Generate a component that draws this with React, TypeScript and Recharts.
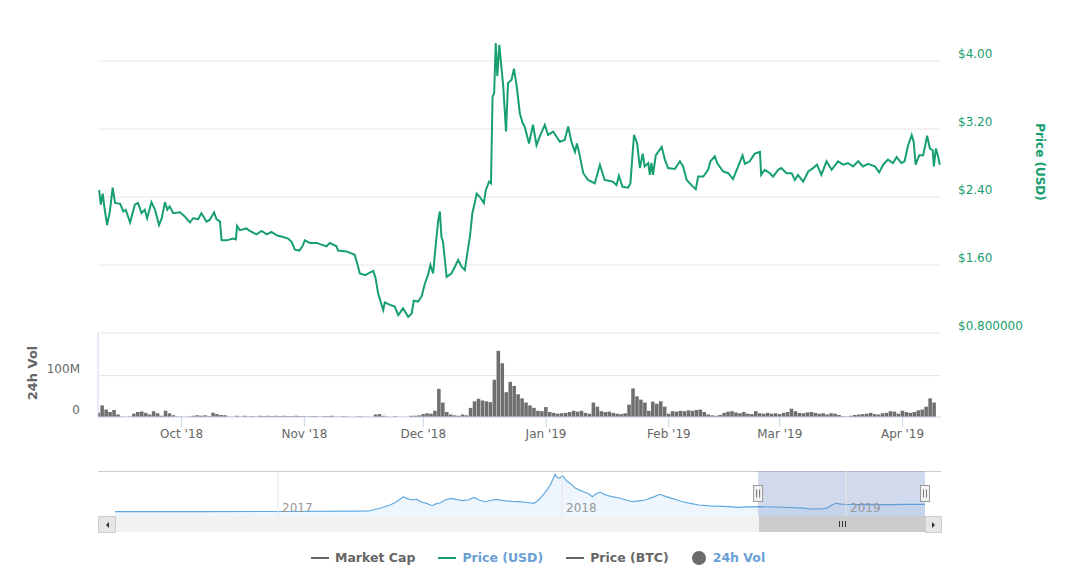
import React from 'react';
import {
  LineChart, Line, XAxis, YAxis, CartesianGrid, BarChart, Bar,
  AreaChart, Area, ReferenceArea, ReferenceLine,
} from 'recharts';

// ---------- data ----------
// main chart x values: days relative to 2018-10-01
const monthTicks = [0, 31, 61, 92, 123, 151, 182];
const monthLabels = ["Oct '18", "Nov '18", "Dec '18", "Jan '19", "Feb '19", "Mar '19", "Apr '19"];

const priceTicks = [0.8, 1.6, 2.4, 3.2, 4.0];
const priceTickLabels = ['$0.800000', '$1.60', '$2.40', '$3.20', '$4.00'];

const volTicks = [0, 100];
const volTickLabels = ['0', '100M'];

const priceDays = [
  -20.8, -20.4, -19.9, -19.4, -18.8, -18.1, -17.4, -16.8, -15.5, -14.7, -14.1, -13.0, -11.8, -11.0, -10.1, -9.3,
  -8.7, -7.6, -6.7, -5.7, -5.0, -4.2, -3.6, -3.0, -2.1, -0.4, 0.8, 2.1, 2.9, 4.2, 5.0, 6.3,
  7.1, 8.2, 8.8, 9.7, 10.1, 11.4, 13.0, 13.7, 14.0, 14.7, 16.4, 17.2, 18.9, 20.2, 21.5, 22.7,
  24.0, 25.6, 26.9, 27.8, 28.6, 29.7, 30.5, 31.1, 32.4, 34.1, 35.3, 36.6, 37.4, 39.1, 39.5, 41.6,
  43.7, 44.2, 45.0, 46.3, 48.4, 49.0, 49.6, 50.5, 50.9, 51.3, 52.6, 53.8, 54.7, 55.9, 57.2, 58.1,
  58.6, 59.7, 60.6, 61.4, 62.2, 62.8, 63.5, 64.2, 64.8, 65.2, 65.6, 66.0, 66.9, 68.1, 69.0, 69.8,
  70.7, 71.5, 72.2, 72.8, 73.4, 74.0, 74.5, 75.3, 76.3, 76.8, 77.6, 78.1, 78.5, 78.9, 79.3, 79.7,
  80.2, 81.2, 81.9, 82.4, 83.3, 83.9, 84.6, 85.4, 86.1, 86.6, 87.7, 88.7, 89.6, 90.4, 91.7, 92.5,
  93.8, 95.5, 96.7, 97.6, 98.4, 99.3, 99.8, 100.5, 101.4, 102.6, 104.3, 105.6, 106.8, 108.9, 109.8, 110.4,
  111.3, 112.7, 113.3, 114.2, 115.0, 115.7, 116.4, 116.9, 117.8, 118.2, 118.6, 119.0, 119.7, 121.2, 122.0, 122.8,
  124.5, 125.8, 126.6, 127.5, 128.7, 129.8, 130.4, 131.7, 132.9, 133.5, 134.6, 135.2, 136.7, 138.0, 139.2, 140.5,
  141.6, 142.2, 143.4, 144.7, 146.0, 146.3, 147.2, 148.5, 149.3, 150.6, 151.4, 152.7, 154.0, 154.8, 155.6, 156.9,
  158.2, 159.4, 160.4, 161.5, 162.8, 164.1, 165.7, 167.0, 168.2, 169.5, 170.8, 172.0, 173.3, 175.0, 176.1, 177.1,
  178.3, 179.6, 180.5, 181.7, 182.5, 183.4, 184.3, 184.8, 185.3, 186.2, 187.2, 188.2, 188.9, 189.6, 189.9, 190.4,
  191.0, 191.4,
];
const priceUsd = [
  2.48, 2.31, 2.44, 2.25, 2.07, 2.23, 2.51, 2.33, 2.32, 2.23, 2.25, 2.10, 2.31, 2.33, 2.21, 2.25,
  2.15, 2.34, 2.25, 2.07, 2.15, 2.34, 2.25, 2.29, 2.21, 2.22, 2.17, 2.10, 2.15, 2.14, 2.21, 2.11,
  2.13, 2.22, 2.14, 2.11, 1.89, 1.89, 1.91, 1.90, 2.06, 2.01, 2.03, 2.00, 1.96, 2.00, 1.96, 1.99,
  1.95, 1.93, 1.91, 1.87, 1.78, 1.77, 1.82, 1.89, 1.86, 1.86, 1.84, 1.82, 1.86, 1.82, 1.77, 1.76,
  1.72, 1.64, 1.50, 1.48, 1.53, 1.44, 1.27, 1.13, 1.07, 1.16, 1.13, 1.11, 1.01, 1.09, 0.99, 1.03,
  1.18, 1.17, 1.23, 1.38, 1.48, 1.60, 1.50, 1.86, 2.13, 2.23, 1.93, 1.87, 1.46, 1.50, 1.58, 1.66,
  1.58, 1.54, 1.76, 1.94, 2.21, 2.33, 2.44, 2.40, 2.33, 2.48, 2.58, 2.56, 3.58, 3.62, 4.21, 3.82,
  4.19, 3.70, 3.17, 3.74, 3.78, 3.91, 3.70, 3.38, 3.27, 3.23, 3.03, 3.25, 3.01, 3.11, 3.25, 3.13,
  3.17, 3.05, 3.07, 3.23, 3.05, 2.93, 3.03, 2.89, 2.68, 2.60, 2.56, 2.78, 2.60, 2.58, 2.54, 2.65,
  2.52, 2.51, 2.56, 3.13, 3.03, 2.74, 2.91, 2.76, 2.80, 2.66, 2.80, 2.66, 2.89, 2.99, 2.84, 2.74,
  2.73, 2.82, 2.76, 2.60, 2.54, 2.49, 2.64, 2.64, 2.72, 2.82, 2.88, 2.80, 2.70, 2.68, 2.61, 2.76,
  2.89, 2.79, 2.82, 2.91, 2.93, 2.66, 2.72, 2.68, 2.64, 2.72, 2.74, 2.68, 2.68, 2.60, 2.66, 2.58,
  2.70, 2.74, 2.78, 2.66, 2.82, 2.72, 2.82, 2.78, 2.80, 2.76, 2.82, 2.76, 2.79, 2.76, 2.69, 2.78,
  2.84, 2.80, 2.87, 2.80, 2.82, 3.01, 3.13, 3.05, 2.78, 2.89, 2.89, 3.12, 2.97, 2.95, 2.76, 2.97,
  2.87, 2.78,
];

// daily 24h volume (millions USD), first value is day -21 (2018-09-10)
const volStartDay = -21;
const volumeM = [
  10, 28, 18, 12, 17, 6, 1, 0.5, 1, 8, 12, 13, 10, 6, 14, 9,
  3, 15, 9, 4, 1, 1, 0.5, 1, 3, 4, 3, 4, 2, 10, 7, 5,
  4, 1, 0.5, 3, 1, 3, 1, 2, 1, 3, 2, 3, 2, 3, 2, 3,
  2, 2, 3, 2, 2, 1, 2, 2, 1, 2, 2, 3, 1, 1, 2, 1,
  0.5, 1, 2, 1, 1, 0.5, 6, 7, 3, 1, 0.5, 2, 0.5, 0.5, 0.5, 3,
  3, 4, 7, 9, 8, 15, 68, 35, 12, 6, 4, 3, 6, 4, 22, 38,
  44, 40, 38, 36, 90, 160, 130, 60, 85, 75, 55, 45, 35, 28, 22, 15,
  14, 24, 12, 10, 8, 9, 10, 12, 15, 13, 15, 10, 8, 35, 25, 14,
  12, 13, 10, 8, 7, 9, 30, 69, 50, 42, 35, 15, 37, 32, 38, 25,
  8, 14, 13, 15, 14, 16, 15, 17, 18, 12, 6, 4, 3, 5, 10, 13,
  14, 11, 9, 12, 8, 7, 14, 9, 8, 10, 8, 9, 7, 10, 12, 20,
  14, 10, 9, 11, 12, 10, 8, 9, 6, 9, 8, 5, 2, 1, 3, 5,
  6, 7, 8, 10, 7, 6, 9, 10, 14, 13, 8, 15, 12, 10, 12, 16,
  18, 25, 45, 35,
];

// navigator: x = days relative to 2017-01-01
const navDays = [
  -209.5, -100, 0, 100, 117, 131, 144, 152, 161, 167, 173.5, 178, 184, 191, 198, 203,
  208, 215, 222, 230, 237, 244, 252, 259, 266, 273, 280, 290, 300, 310, 320, 329,
  334, 339, 345, 350, 356, 359, 362, 366, 371, 376, 382, 388, 393, 399, 404, 409,
  414, 421, 429, 440, 447, 456, 464, 472, 482, 491, 498, 506, 513, 520, 530, 541,
  555, 571, 580, 590, 604, 618, 640, 658, 675, 684, 692, 699, 706, 712, 717, 724,
  730, 745, 760, 774, 790, 805, 820, 831.5,
];
const navPrice = [
  0.05, 0.08, 0.1, 0.2, 0.28, 1.24, 2.41, 3.5, 5.36, 4.6, 4.19, 4.5, 3.48, 3.0, 2.16, 2.8,
  3.12, 4.2, 4.79, 4.3, 4.0, 4.19, 5.08, 4.1, 3.58, 4.0, 4.44, 4.0, 3.7, 3.58, 3.3, 3.02,
  4.0, 5.36, 7.5, 9.52, 13.3, 12.2, 12.0, 12.8, 10.9, 10.0, 8.46, 7.6, 7.14, 6.4, 5.36, 6.4,
  6.93, 6.0, 5.36, 4.8, 4.2, 3.58, 3.9, 4.19, 5.2, 6.22, 5.5, 4.79, 4.2, 3.58, 3.0, 2.41,
  2.1, 1.95, 1.8, 1.59, 1.75, 1.81, 1.7, 1.52, 1.3, 0.99, 1.0, 0.99, 1.4, 2.4, 3.02, 2.7,
  2.59, 2.55, 2.6, 2.52, 2.55, 2.6, 2.62, 2.66,
];
const navYears = [0, 365, 730];
const navYearLabels = ['2017', '2018', '2019'];
const navSelection = [617, 831.5];

const legendNames = ['Market Cap', 'Price (USD)', 'Price (BTC)', '24h Vol'];

// ---------- styling constants ----------
const FONT = '"DejaVu Sans", Verdana, sans-serif';
const GREEN = '#17a06e';
const GRID = '#e6e6e6';
const AXIS = '#ccd6eb';
const MAIN_DOMAIN: [number, number] = [-21.1, 191.7];
const NAV_DOMAIN: [number, number] = [-209.5, 831.5];
const NAV_Y: [number, number] = [-1.5, 14.5];

const LEGEND_STYLE = [
  { sym: 'line', symColor: '#666', text: '#666' },
  { sym: 'line', symColor: GREEN, text: '#6a9fd6' },
  { sym: 'line', symColor: '#666', text: '#666' },
  { sym: 'dot', symColor: '#6b6b6b', text: '#6a9fd6' },
];

const priceData = priceDays.map((d, i) => ({ d, p: priceUsd[i] }));
const volData = volumeM.map((v, i) => ({ d: volStartDay + i, v }));
const navData = navDays.map((d, i) => ({ d, v: navPrice[i] }));

const fmtMonth = (v: number) => {
  const i = monthTicks.indexOf(v);
  return i >= 0 ? monthLabels[i] : '';
};

const PriceTick = (props: any) => {
  const { x, y, payload } = props;
  const i = priceTicks.findIndex((t) => Math.abs(t - payload.value) < 1e-9);
  return (
    <text x={x} y={y - 7} dy="0.35em" textAnchor="start" fill={GREEN} fontSize={12} fontFamily={FONT}>
      {i >= 0 ? priceTickLabels[i] : payload.value}
    </text>
  );
};

const VolTick = (props: any) => {
  const { x, y, payload } = props;
  const i = volTicks.indexOf(payload.value);
  return (
    <text x={x} y={y - 7} dy="0.35em" textAnchor="end" fill="#666" fontSize={12} fontFamily={FONT}>
      {i >= 0 ? volTickLabels[i] : payload.value}
    </text>
  );
};

const PriceLabel = (p: any) => {
  const vb = p.viewBox || {};
  const cx = vb.x + vb.width - 11;
  const cy = vb.y + vb.height / 2 - 18;
  return (
    <text x={cx} y={cy} transform={`rotate(90 ${cx} ${cy})`} textAnchor="middle" dominantBaseline="central"
      fill={GREEN} fontSize={12} fontWeight="bold" fontFamily={FONT}>Price (USD)</text>
  );
};

const VolLabel = (p: any) => {
  const vb = p.viewBox || {};
  const cx = vb.x - 6;
  const cy = vb.y + vb.height / 2 - 2;
  return (
    <text x={cx} y={cy} transform={`rotate(-90 ${cx} ${cy})`} textAnchor="middle" dominantBaseline="central"
      fill="#666" fontSize={13} fontWeight="bold" fontFamily={FONT}>24h Vol</text>
  );
};

const SelShape = (p: any) => {
  const { x, y, width, height } = p;
  const handle = (cx: number) => (
    <g>
      <rect x={cx - 4.5} y={y + 14.5} width={9} height={16} fill="#f2f2f2" stroke="#999" strokeWidth={1} />
      <line x1={cx - 1.5} x2={cx - 1.5} y1={y + 18.5} y2={y + 26.5} stroke="#777" strokeWidth={1} />
      <line x1={cx + 1.5} x2={cx + 1.5} y1={y + 18.5} y2={y + 26.5} stroke="#777" strokeWidth={1} />
    </g>
  );
  return (
    <g>
      <rect x={x} y={y} width={width} height={height} fill="#6685c2" fillOpacity={0.3} />
      {handle(x)}
      {handle(x + width)}
    </g>
  );
};

const Legend = () => (
  <div style={{ position: 'absolute', left: 311, top: 549, height: 18, display: 'flex', alignItems: 'center', gap: 23 }}>
    {legendNames.map((n, i) => {
      const s = LEGEND_STYLE[i];
      return (
        <div key={n} style={{ display: 'flex', alignItems: 'center' }}>
          {s.sym === 'line' ? (
            <div style={{ width: 18, height: 2, background: s.symColor, marginRight: 6 }} />
          ) : (
            <div style={{ width: 14, height: 14, borderRadius: 7, background: s.symColor, marginRight: 7 }} />
          )}
          <span style={{ color: s.text, fontWeight: 'bold', fontSize: 12.5, lineHeight: '18px', fontFamily: FONT }}>{n}</span>
        </div>
      );
    })}
  </div>
);

const Scrollbar = () => (
  <>
    <div style={{ position: 'absolute', left: 98, top: 471, width: 843, height: 1, background: '#cccccc' }} />
    <div style={{ position: 'absolute', left: 98, top: 516, width: 843, height: 16, background: '#f2f2f2' }} />
    <div style={{ position: 'absolute', left: 98, top: 516, width: 16, height: 15, background: '#e6e6e6', border: '1px solid #cccccc', boxSizing: 'content-box', display: 'flex', alignItems: 'center', justifyContent: 'center' }}>
      <div style={{ width: 0, height: 0, borderTop: '3px solid transparent', borderBottom: '3px solid transparent', borderRight: '3px solid #333' }} />
    </div>
    <div style={{ position: 'absolute', left: 759, top: 516, width: 166, height: 16, background: '#cccccc', display: 'flex', alignItems: 'center', justifyContent: 'center', gap: 2 }}>
      <div style={{ width: 1, height: 6, background: '#333' }} />
      <div style={{ width: 1, height: 6, background: '#333' }} />
      <div style={{ width: 1, height: 6, background: '#333' }} />
    </div>
    <div style={{ position: 'absolute', left: 925, top: 516, width: 15, height: 15, background: '#e6e6e6', border: '1px solid #cccccc', boxSizing: 'content-box', display: 'flex', alignItems: 'center', justifyContent: 'center' }}>
      <div style={{ width: 0, height: 0, borderTop: '3px solid transparent', borderBottom: '3px solid transparent', borderLeft: '3px solid #333' }} />
    </div>
  </>
);

export default function App() {
  return (
    <div style={{ position: 'absolute', left: 0, top: 0, width: 1080, height: 572, background: '#fff', fontFamily: FONT, overflow: 'hidden' }}>
      <div style={{ position: 'absolute', left: 0, top: 0 }}>
        <LineChart width={1080} height={345} data={priceData} margin={{ top: 27, right: 29, bottom: 12, left: 98 }}>
          <CartesianGrid horizontal vertical={false} stroke={GRID} horizontalValues={priceTicks} />
          <XAxis dataKey="d" type="number" domain={MAIN_DOMAIN} hide allowDataOverflow />
          <YAxis orientation="right" domain={[0.8, 4.4]} ticks={priceTicks} width={110} axisLine={false}
            tickLine={false} tickSize={0} tickMargin={17} tick={<PriceTick />} label={PriceLabel} allowDataOverflow />
          <Line dataKey="p" type="linear" stroke={GREEN} strokeWidth={2} dot={false} isAnimationActive={false} />
        </LineChart>
      </div>

      <div style={{ position: 'absolute', left: 0, top: 320 }}>
        <BarChart width={1080} height={130} data={volData} margin={{ top: 13, right: 139, bottom: 3, left: 38 }}>
          <CartesianGrid horizontal vertical={false} stroke={GRID} horizontalValues={[100]} />
          <XAxis dataKey="d" type="number" domain={MAIN_DOMAIN} ticks={monthTicks} interval={0} tickFormatter={fmtMonth}
            height={30} axisLine={{ stroke: AXIS }} tickLine={{ stroke: AXIS }} tickSize={10} tickMargin={2}
            tick={{ fill: '#666', fontSize: 12, fontFamily: FONT }} allowDataOverflow />
          <YAxis domain={[0, 203]} ticks={volTicks} width={60} axisLine={{ stroke: AXIS }} tickLine={false}
            tickSize={0} tickMargin={18} tick={<VolTick />} label={VolLabel} allowDataOverflow />
          <Bar dataKey="v" fill="#6f6f6f" barSize={4} isAnimationActive={false} />
        </BarChart>
      </div>

      <Scrollbar />

      <div style={{ position: 'absolute', left: 0, top: 460 }}>
        <AreaChart width={1080} height={60} data={navData} margin={{ top: 11, right: 155, bottom: 4, left: 115 }}>
          <XAxis dataKey="d" type="number" domain={NAV_DOMAIN} hide allowDataOverflow />
          <YAxis domain={NAV_Y} hide allowDataOverflow />
          {navYears.map((yv, i) => (
            <ReferenceLine key={yv} x={yv} stroke={GRID}
              label={{ value: navYearLabels[i], position: 'insideBottomLeft', offset: 4, fill: '#999', fontSize: 12, fontFamily: FONT }} />
          ))}
          <Area dataKey="v" type="linear" stroke="#5eaae0" strokeWidth={1.2} fill="#7cb5ec" fillOpacity={0.13}
            baseValue={NAV_Y[0]} dot={false} isAnimationActive={false} />
          <ReferenceArea x1={navSelection[0]} x2={navSelection[1]} shape={SelShape} />
        </AreaChart>
      </div>

      <Legend />
    </div>
  );
}
